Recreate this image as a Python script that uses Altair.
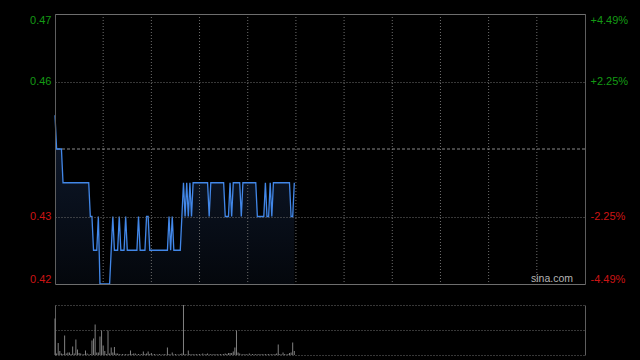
import altair as alt
import pandas as pd

# ---------------- data ----------------
prev_close = 0.445
session_minutes = 330  # 09:30-12:00 + 13:00-16:00

minutes = list(range(150))

prices = [
    0.45, 0.445, 0.445, 0.445, 0.445, 0.44, 0.44, 0.44, 0.44, 0.44,
    0.44, 0.44, 0.44, 0.44, 0.44, 0.44, 0.44, 0.44, 0.44, 0.44,
    0.44, 0.44, 0.435, 0.435, 0.43, 0.43, 0.43, 0.435, 0.425, 0.425,
    0.425, 0.425, 0.425, 0.425, 0.425, 0.43, 0.435, 0.43, 0.43, 0.43,
    0.435, 0.43, 0.43, 0.43, 0.435, 0.43, 0.43, 0.43, 0.43, 0.43,
    0.43, 0.43, 0.435, 0.43, 0.43, 0.43, 0.43, 0.435, 0.435, 0.43,
    0.43, 0.43, 0.43, 0.43, 0.43, 0.43, 0.43, 0.43, 0.43, 0.43,
    0.43, 0.435, 0.43, 0.435, 0.43, 0.43, 0.43, 0.43, 0.43, 0.435,
    0.44, 0.435, 0.44, 0.435, 0.44, 0.435, 0.44, 0.44, 0.44, 0.44,
    0.44, 0.44, 0.44, 0.44, 0.44, 0.44, 0.435, 0.44, 0.44, 0.44,
    0.44, 0.44, 0.44, 0.44, 0.44, 0.44, 0.435, 0.435, 0.435, 0.44,
    0.435, 0.44, 0.44, 0.44, 0.44, 0.44, 0.435, 0.44, 0.44, 0.44,
    0.44, 0.44, 0.44, 0.44, 0.44, 0.44, 0.435, 0.435, 0.435, 0.435,
    0.435, 0.44, 0.435, 0.435, 0.44, 0.435, 0.44, 0.44, 0.44, 0.44,
    0.44, 0.44, 0.44, 0.44, 0.44, 0.44, 0.44, 0.435, 0.435, 0.44,
]

volumes = [
    730, 30, 240, 80, 30, 20, 390, 30, 50, 50,
    20, 170, 30, 310, 110, 40, 30, 10, 20, 90,
    30, 10, 20, 290, 330, 610, 50, 50, 370, 490,
    190, 80, 20, 490, 30, 150, 50, 160, 30, 30,
    20, 10, 20, 10, 20, 10, 20, 90, 20, 30,
    30, 10, 20, 10, 20, 70, 20, 30, 70, 20,
    40, 10, 20, 10, 10, 20, 10, 10, 20, 10,
    150, 20, 10, 50, 10, 20, 10, 10, 20, 30,
    1000, 20, 10, 90, 20, 10, 20, 10, 20, 10,
    20, 10, 30, 10, 20, 30, 10, 20, 10, 20,
    10, 20, 10, 20, 10, 20, 30, 20, 40, 40,
    40, 70, 150, 490, 50, 30, 10, 20, 10, 20,
    10, 30, 10, 20, 10, 20, 10, 20, 10, 20,
    10, 20, 10, 20, 10, 20, 10, 20, 30, 210,
    20, 10, 50, 20, 10, 20, 40, 50, 250, 80,
]

grid_minutes = [30, 60, 90, 120, 150, 180, 210, 240, 270, 300]
left_tick_values = [0.425, 0.435, 0.455, 0.465]
right_tick_values = [-4.494, -2.247, 2.247, 4.494]
vol_tick_values = [0, 500, 1000]
watermark = ["sina.com"]

df = pd.DataFrame({"t": minutes, "price": prices, "vol": volumes})
df["pct"] = (df["price"] / prev_close - 1) * 100
grid_df = pd.DataFrame({"t": grid_minutes})
wm_df = pd.DataFrame({"label": watermark})

# ---------------- style ----------------
FONT = "Liberation Sans"
GREEN = "#149a14"
RED = "#cc1414"
BORDER = "#5e5e5e"
GRID = "#6e6e6e"
LINE = "#4287e8"

W, H = 530, 341
PRICE_RANGE = [270, 0]
VOL_RANGE = [341, 291]

price_scale = alt.Scale(domain=[0.425, 0.465], range=PRICE_RANGE, zero=False, nice=False)
pct_scale = alt.Scale(domain=[-4.494, 4.494], range=PRICE_RANGE, zero=False, nice=False)
vol_scale = alt.Scale(domain=[0, 1000], range=VOL_RANGE, zero=False, nice=False)

x_axis = alt.Axis(orient="top", labels=False, ticks=False, grid=False, domain=True,
                  domainColor=BORDER, title=None)
x_enc = alt.X("t:Q", scale=alt.Scale(domain=[0, session_minutes], nice=False, zero=False),
              axis=x_axis)

price_axis = alt.Axis(
    orient="left", values=left_tick_values, format=".2f", title=None,
    labelColor={"condition": {"test": f"datum.value > {prev_close}", "value": GREEN}, "value": RED},
    labelFont=FONT, labelFontSize=11, labelPadding=4, labelFlush=True,
    ticks=False, domain=True, domainColor=BORDER,
    grid=True, gridColor=GRID,
    gridDash={"condition": {"test": "datum.value > 0.43 && datum.value < 0.46", "value": [1, 2]},
              "value": []},
    zindex=1,
)

pct_axis = alt.Axis(
    orient="right", values=right_tick_values, title=None,
    labelExpr="(datum.value > 0 ? '+' : '-') + format(abs(datum.value), '.2f') + '%'",
    labelColor={"condition": {"test": "datum.value > 0", "value": GREEN}, "value": RED},
    labelFont=FONT, labelFontSize=11, labelPadding=5, labelFlush=True,
    ticks=False, domain=True, domainColor=BORDER, grid=False,
)

vol_axis_left = alt.Axis(
    orient="left", values=vol_tick_values, labels=False, ticks=False, title=None,
    domain=True, domainColor=BORDER, grid=True, gridColor=GRID, gridDash=[1, 2],
)
vol_axis_right = alt.Axis(
    orient="right", labels=False, ticks=False, title=None, grid=False,
    domain=True, domainColor=BORDER,
)

base = alt.Chart(df)

area = base.mark_area(
    color=alt.Gradient(
        gradient="linear",
        stops=[alt.GradientStop(color="#0f1a2e", offset=0),
               alt.GradientStop(color="#04070c", offset=1)],
        x1=1, x2=1, y1=0, y2=1,
    ),
    interpolate="linear",
).encode(
    x=x_enc,
    y=alt.Y("price:Q", scale=price_scale, axis=price_axis),
    y2=alt.datum(0.425),
)

vgrid = alt.Chart(grid_df).mark_rule(color=GRID, strokeDash=[1, 2], strokeWidth=1).encode(
    x=x_enc,
    y=alt.Y(datum=0.465, scale=price_scale, axis=None),
    y2=alt.datum(0.425),
)

midline = alt.Chart(pd.DataFrame({"p": [prev_close]})).mark_rule(
    color="#8a8a8a", strokeDash=[3, 2], strokeWidth=1
).encode(
    y=alt.Y("p:Q", scale=price_scale, axis=None),
)

line = base.mark_line(color=LINE, strokeWidth=1.3, interpolate="linear").encode(
    x=x_enc,
    y=alt.Y("price:Q", scale=price_scale, axis=None),
)

pct_hidden = base.mark_line(strokeOpacity=0).encode(
    x=x_enc,
    y=alt.Y("pct:Q", scale=pct_scale, axis=pct_axis),
)

vol_bars = base.mark_rule(color="#808080", strokeWidth=1).encode(
    x=x_enc,
    y=alt.Y("vol:Q", scale=vol_scale, axis=vol_axis_left),
    y2=alt.datum(0),
)

vol_hidden = base.mark_line(strokeOpacity=0).encode(
    x=x_enc,
    y=alt.Y("vol:Q", scale=vol_scale, axis=vol_axis_right),
)

wm = alt.Chart(wm_df).mark_text(
    font=FONT, fontSize=10.5, color="#b4b4b4", align="right", baseline="alphabetic"
).encode(
    text="label:N",
    x=alt.value(518),
    y=alt.value(268),
)

chart = alt.layer(
    area, vgrid, midline, line, pct_hidden, vol_bars, vol_hidden, wm
).resolve_scale(
    y="independent"
).resolve_axis(
    y="independent"
).properties(
    width=W,
    height=H,
    background="#000000",
    padding={"left": 55, "top": 14, "right": 55, "bottom": 5},
    autosize=alt.AutoSizeParams(type="none"),
).configure_view(
    stroke=None
)

chart.save("out.html", embed_options={"renderer": "svg", "actions": False})
